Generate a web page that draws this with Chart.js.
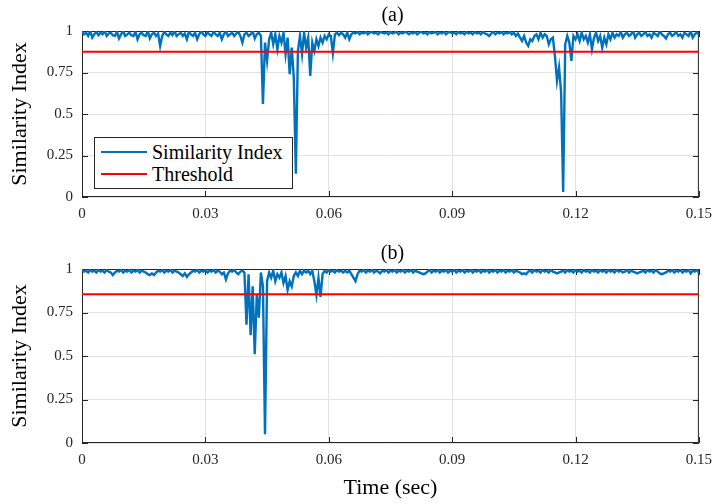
<!DOCTYPE html>
<html>
<head>
<meta charset="utf-8">
<script src="https://cdn.jsdelivr.net/npm/chart.js@4.4.0/dist/chart.umd.min.js"></script>
<style>
    html, body { margin: 0; padding: 0; background: #fff; }
    #wrap { position: relative; width: 720px; height: 504px; font-family: "Liberation Serif", serif; color: #000; }
    #wrap canvas { position: absolute; left: 0; }
    .ptitle { position: absolute; left: 82px; width: 621px; text-align: center; font-size: 20px; line-height: 20px; }
    .legend { position: absolute; left: 94px; top: 137px; width: 197px; height: 50px; border: 1px solid #262626; background: #fff; }
    .legend .row { position: absolute; left: 0; height: 22px; width: 100%; font-size: 20px; line-height: 22px; }
    .legend .swatch { position: absolute; left: 6px; top: 10px; width: 46px; height: 2px; }
    .legend .lbl { position: absolute; left: 57px; top: 0; white-space: nowrap; }
</style>
</head>
<body>
<div id="wrap">
    <canvas id="chartA" width="720" height="232" style="top:0"></canvas>
    <canvas id="chartB" width="720" height="268" style="top:236px"></canvas>
    <div class="ptitle" style="top:4px">(a)</div>
    <div class="ptitle" style="top:242px">(b)</div>
    <div class="legend">
        <div class="row" style="top:3px"><div class="swatch" style="background:#0072BD"></div><span class="lbl">Similarity Index</span></div>
        <div class="row" style="top:25px"><div class="swatch" style="background:#FF0000"></div><span class="lbl">Threshold</span></div>
    </div>
</div>
<script>
// sample spacing of both records (sec)
const dt = 0.0005;

// similarity index, record (a)
const simA = [
    0.995,0.98,0.99,0.97,1.0,0.96,0.98,0.995,0.975,0.99,
    0.98,1.0,0.97,0.985,0.99,0.975,0.97,0.995,0.955,0.98,
    1.0,0.97,0.98,0.99,0.975,0.97,0.995,0.95,0.98,0.99,
    0.975,0.97,1.0,0.955,0.98,0.99,0.97,0.985,0.91,0.97,
    0.995,0.98,0.97,0.99,0.975,1.0,0.97,0.98,0.99,0.97,
    0.985,0.95,0.995,0.98,0.97,0.99,0.95,0.98,1.0,0.98,
    0.97,0.99,0.98,0.97,0.995,0.98,0.97,0.99,0.95,0.98,
    1.0,0.97,0.98,0.99,0.97,0.985,0.995,0.97,0.93,0.98,
    0.99,0.97,0.98,1.0,0.955,0.98,0.99,
    0.97,0.56,0.93,0.82,0.95,0.99,0.92,0.98,0.89,0.97,
    0.93,0.99,0.86,0.96,0.74,0.9,0.72,0.14,0.88,0.97,
    0.86,0.99,0.9,0.96,0.73,0.93,0.88,0.95,0.91,0.96,
    0.93,0.97,0.95,0.98,0.97,0.865,0.98,0.99,0.975,0.99,0.98,
    0.96,0.99,0.95,0.98,0.99,0.985,0.995,0.98,0.99,0.985,
    0.995,0.98,0.99,0.995,0.985,0.99,0.98,0.995,0.99,0.985,
    0.99,0.98,0.995,0.985,0.99,0.995,0.98,0.99,0.985,0.995,
    0.99,0.98,0.99,0.985,0.995,0.98,0.99,0.995,0.985,0.99,
    0.98,0.995,0.985,0.99,0.995,0.98,0.99,0.985,0.995,0.98,
    0.99,0.995,0.985,0.99,0.98,0.995,0.985,0.99,0.98,
    0.995,0.985,0.99,0.98,0.995,0.985,0.99,0.98,0.995,0.985,
    0.98,0.97,0.985,0.995,0.98,0.99,0.985,0.995,0.98,0.99,
    0.985,0.995,0.98,0.99,0.97,0.985,
    0.96,0.94,0.97,0.93,0.91,0.95,0.94,0.97,
    0.98,0.95,0.99,0.96,0.98,0.97,0.92,0.95,
    0.96,0.85,0.70,0.78,0.63,0.03,0.92,0.97,0.93,0.82,0.97,0.95,
    0.98,0.94,0.99,0.95,0.97,0.93,0.98,0.89,0.96,0.99,
    0.94,0.97,0.9,0.96,0.92,0.98,0.95,0.99,0.96,0.98,
    0.97,0.995,0.96,0.98,0.99,0.97,0.98,1.0,0.96,0.98,
    0.99,0.97,0.98,0.995,0.97,0.98,0.96,0.99,0.98,0.97,
    1.0,0.98,0.97,0.955,0.98,0.99,0.97,0.98,0.995,0.97,
    0.98,0.96,0.99,0.98,0.97,1.0,0.96,0.98,0.99,0.98
];

// similarity index, record (b)
const simB = [
    0.995,0.985,0.99,0.98,0.995,0.985,0.99,0.98,0.995,0.985,
    0.99,0.98,0.995,0.985,0.98,0.965,0.98,0.99,0.985,0.995,
    0.98,0.99,0.985,0.995,0.98,0.99,0.985,0.995,0.98,0.99,
    0.985,0.98,0.97,0.965,0.975,0.965,0.98,0.99,0.985,0.995,
    0.98,0.99,0.985,0.995,0.98,0.99,0.985,0.98,0.97,0.96,
    0.975,0.955,0.97,0.98,0.99,0.985,0.995,0.98,0.99,0.985,
    0.995,0.98,0.99,0.985,0.995,0.98,0.99,0.985,0.97,0.98,
    0.94,0.975,0.99,0.985,0.995,0.98,0.97,0.985,0.99,0.98,
    0.68,0.97,0.62,0.9,0.51,0.85,0.72,0.98,0.9,0.05,
    0.93,0.98,0.95,0.99,0.93,0.97,0.95,0.98,0.92,0.96,
    0.88,0.93,0.9,0.96,0.98,0.96,0.99,0.97,0.99,0.98,
    0.99,0.97,0.99,0.93,0.85,0.95,0.84,0.97,0.99,0.98,
    0.995,0.985,0.99,0.98,0.995,0.985,0.99,0.98,
    0.99,0.98,0.99,0.97,0.95,0.93,0.97,0.99,0.985,0.995,
    0.98,0.99,0.985,0.995,0.98,0.99,0.985,0.975,0.99,0.985,
    0.995,0.98,0.99,0.985,0.995,0.98,0.99,0.985,0.995,0.98,
    0.99,0.985,0.995,0.98,0.99,0.985,0.98,0.975,0.97,0.975,
    0.985,0.995,0.98,0.99,0.985,0.995,0.98,0.99,0.985,0.995,
    0.98,0.99,0.985,0.995,0.98,0.99,0.985,0.995,0.98,0.99,
    0.985,0.995,0.98,0.99,0.985,0.995,0.98,0.99,0.985,0.995,
    0.98,0.99,0.985,0.995,0.98,0.99,0.985,0.995,0.98,0.99,
    0.985,0.995,0.98,0.99,0.985,0.98,0.97,0.975,0.97,0.985,
    0.99,0.98,0.995,0.985,0.99,0.98,0.995,0.985,0.99,0.98,
    0.995,0.985,0.98,0.975,0.98,0.985,0.99,0.98,0.995,0.985,
    0.99,0.98,0.995,0.985,0.99,0.98,0.995,0.985,0.99,0.98,
    0.995,0.985,0.99,0.98,0.995,0.985,0.99,0.98,0.995,0.985,
    0.99,0.98,0.995,0.985,0.99,0.98,0.985,0.995,0.98,0.99,
    0.985,0.98,0.975,0.98,0.985,0.99,0.98,0.995,0.985,0.99,
    0.98,0.995,0.985,0.975,0.97,0.975,0.98,0.99,0.985,0.995,
    0.98,0.99,0.985,0.995,0.98,0.99,0.985,0.995,0.975,0.99,
    0.985,0.995,0.98
];

// detection thresholds
const thresholdA = 0.875;
const thresholdB = 0.855;

// axis ticks
const timeTicks = [0, 0.03, 0.06, 0.09, 0.12, 0.15];
const simTicks = [0, 0.25, 0.5, 0.75, 1];

const FONT = "'Liberation Serif', serif";
const AXIS_COLOR = "#262626";

// MATLAB-like box with inward ticks
const boxPlugin = {
    id: "matlabBox",
    beforeDatasetsDraw(chart) {
        const { ctx, chartArea: a, scales: { x, y } } = chart;
        ctx.save();
        ctx.strokeStyle = AXIS_COLOR;
        ctx.lineWidth = 1;
        ctx.strokeRect(a.left + 0.5, a.top + 0.5, a.width - 1, a.height - 1);
        ctx.beginPath();
        timeTicks.forEach((t) => {
            const px = Math.round(x.getPixelForValue(t)) + 0.5;
            ctx.moveTo(px, a.bottom); ctx.lineTo(px, a.bottom - 6);
            ctx.moveTo(px, a.top); ctx.lineTo(px, a.top + 6);
        });
        simTicks.forEach((v) => {
            const py = Math.round(y.getPixelForValue(v)) + 0.5;
            ctx.moveTo(a.left, py); ctx.lineTo(a.left + 6, py);
            ctx.moveTo(a.right, py); ctx.lineTo(a.right - 6, py);
        });
        ctx.stroke();
        ctx.restore();
    },
};

function makeChart(canvasId, values, threshold, padTop, xHeight, showXTitle) {
    const points = values.map((v, i) => ({ x: i * dt, y: v }));
    const tMax = timeTicks[timeTicks.length - 1];
    return new Chart(document.getElementById(canvasId), {
        type: "line",
        data: {
            datasets: [
                {
                    label: "Threshold",
                    data: [{ x: 0, y: threshold }, { x: tMax, y: threshold }],
                    borderColor: "#FF0000",
                    borderWidth: 2,
                    pointRadius: 0,
                    order: 0,
                },
                {
                    label: "Similarity Index",
                    data: points,
                    borderColor: "#0072BD",
                    borderWidth: 2.4,
                    pointRadius: 0,
                    tension: 0,
                    order: 1,
                },
            ],
        },
        options: {
            responsive: false,
            animation: false,
            events: [],
            layout: { padding: { top: padTop, right: 17, left: 0, bottom: 0 } },
            plugins: { legend: { display: false }, tooltip: { enabled: false } },
            scales: {
                x: {
                    type: "linear",
                    min: 0,
                    max: tMax,
                    afterBuildTicks: (s) => { s.ticks = timeTicks.map((v) => ({ value: v })); },
                    afterFit: (s) => { s.height = xHeight; },
                    grid: { color: "#e3e3e3", drawTicks: false },
                    border: { display: false },
                    ticks: {
                        padding: 8,
                        color: AXIS_COLOR,
                        font: { family: FONT, size: 15 },
                        maxRotation: 0,
                        callback: (v) => String(Math.round(v * 100) / 100),
                    },
                    title: {
                        display: showXTitle,
                        text: "Time (sec)",
                        color: "#000",
                        font: { family: FONT, size: 22 },
                        padding: { top: 0, bottom: 3 },
                    },
                },
                y: {
                    min: 0,
                    max: 1,
                    afterBuildTicks: (s) => { s.ticks = simTicks.map((v) => ({ value: v })); },
                    afterFit: (s) => { s.width = 82; },
                    grid: { color: "#e3e3e3", drawTicks: false },
                    border: { display: false },
                    ticks: {
                        padding: 9,
                        color: AXIS_COLOR,
                        font: { family: FONT, size: 15 },
                        callback: (v) => String(v),
                    },
                    title: {
                        display: true,
                        text: "Similarity Index",
                        color: "#000",
                        font: { family: FONT, size: 22 },
                        padding: { top: 7, bottom: 0 },
                    },
                },
            },
        },
        plugins: [boxPlugin],
    });
}

makeChart("chartA", simA, thresholdA, 31, 35, false);
makeChart("chartB", simB, thresholdB, 33, 61, true);
</script>
</body>
</html>
